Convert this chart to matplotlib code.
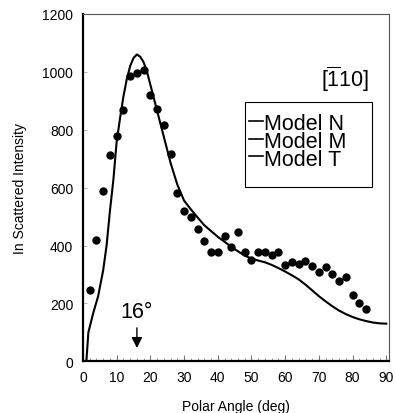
import matplotlib
matplotlib.use("Agg")
import matplotlib.pyplot as plt
from matplotlib.lines import Line2D
from matplotlib.patches import Rectangle
from matplotlib.ticker import MultipleLocator

plt.rcParams["font.family"] = ["Liberation Sans", "DejaVu Sans"]
plt.rcParams["mathtext.fontset"] = "custom"
plt.rcParams["mathtext.rm"] = "Liberation Sans"
plt.rcParams["mathtext.default"] = "regular"

# measured points (polar angle, intensity)
meas_angle = [2, 4, 6, 8, 10, 12, 14, 16, 18, 20, 22, 24, 26, 28, 30, 32, 34,
              36, 38, 40, 42, 44, 46, 48, 50, 52, 54, 56, 58, 60, 62, 64, 66,
              68, 70, 72, 74, 76, 78, 80, 82, 84]
meas_intensity = [248, 419, 588, 711, 777, 868, 987, 996, 1005, 920, 871, 818,
                  716, 581, 520, 497, 457, 417, 376, 379, 433, 395, 446, 377,
                  351, 377, 377, 367, 379, 331, 343, 336, 345, 328, 310, 327,
                  303, 278, 291, 228, 202, 179]

# model curve
model_angle = [1, 1.6, 3, 4.5, 6, 7, 8, 9, 10, 11, 12, 13, 14, 15, 16, 17, 18,
               19, 20, 21, 22, 24, 26, 28, 30, 32, 34, 36, 38, 40, 42, 44, 46,
               48, 50, 52, 54, 56, 58, 60, 62, 64, 66, 68, 70, 72, 74, 76, 78,
               80, 82, 84, 86, 88, 90]
model_intensity = [0, 100, 165, 225, 315, 400, 520, 625, 760, 840, 915, 975,
                   1020, 1048, 1060, 1052, 1033, 1000, 955, 910, 865, 775, 685,
                   610, 555, 525, 497, 470, 450, 430, 413, 395, 380, 365, 355,
                   348, 342, 333, 322, 310, 297, 283, 265, 245, 225, 207, 190,
                   175, 163, 153, 145, 139, 134, 131, 130]

model_names = ["Model N", "Model M", "Model T"]
peak_angle = 16

fig = plt.figure(figsize=(3.95, 4.14), dpi=100)
ax = fig.add_axes([0.2101, 0.1249, 0.7747, 0.839])

ax.plot(model_angle, model_intensity, color="black", lw=1.5)
ax.plot(meas_angle, meas_intensity, "o", color="black", markersize=5, mec="black")

ax.set_xlim(0, 90.8)
ax.set_ylim(0, 1200)
ax.set_xticks([0, 10, 20, 30, 40, 50, 60, 70, 80, 90])
ax.xaxis.set_minor_locator(MultipleLocator(2))
ax.yaxis.set_major_locator(MultipleLocator(200))

ax.tick_params(axis="x", which="major", direction="in", length=4, width=0.8,
               color="#777777", labelsize=10, pad=6)
ax.tick_params(axis="x", which="minor", direction="in", length=2.5, width=0.6,
               color="#888888")
ax.tick_params(axis="y", which="major", direction="in", length=3, width=0.6,
               color="#aaaaaa", labelsize=10, pad=7)

for s in ["left", "bottom"]:
    ax.spines[s].set_linewidth(1.6)
    ax.spines[s].set_color("black")
for s in ["top", "right"]:
    ax.spines[s].set_linewidth(0.8)
    ax.spines[s].set_color("#555555")

ax.set_xlabel("Polar Angle (deg)", fontsize=10, labelpad=11)
ax.set_ylabel("In Scattered Intensity", fontsize=10, labelpad=11)

# direction label
ax.text(0.935, 0.815, r"$[\overline{1}10]$", transform=ax.transAxes,
        fontsize=15.5, ha="right", va="center")

# peak marker
ax.text(peak_angle, 152, "16°", fontsize=15.5, ha="center", va="baseline")
ax.annotate("", xy=(peak_angle, 36), xytext=(peak_angle, 125),
            arrowprops=dict(arrowstyle="-|>", color="black", lw=1,
                            mutation_scale=16))

# legend box, drawn by hand (rows are packed tighter than ax.legend allows)
ax.add_patch(Rectangle((0.529, 0.502), 0.415, 0.245, transform=ax.transAxes,
                       facecolor="white", edgecolor="black", lw=0.8, zorder=5))
row_base = [0.671, 0.620, 0.570]
for yb in row_base:
    ax.add_line(Line2D([0.543, 0.588], [yb + 0.021, yb + 0.021],
                       transform=ax.transAxes, color="black", lw=1.2, zorder=6))
ax.text(0.590, 0.714, "\n".join(model_names), transform=ax.transAxes,
        fontsize=15.5, ha="left", va="top", linespacing=0.81, zorder=6)

fig.savefig("out.png", dpi=100)
